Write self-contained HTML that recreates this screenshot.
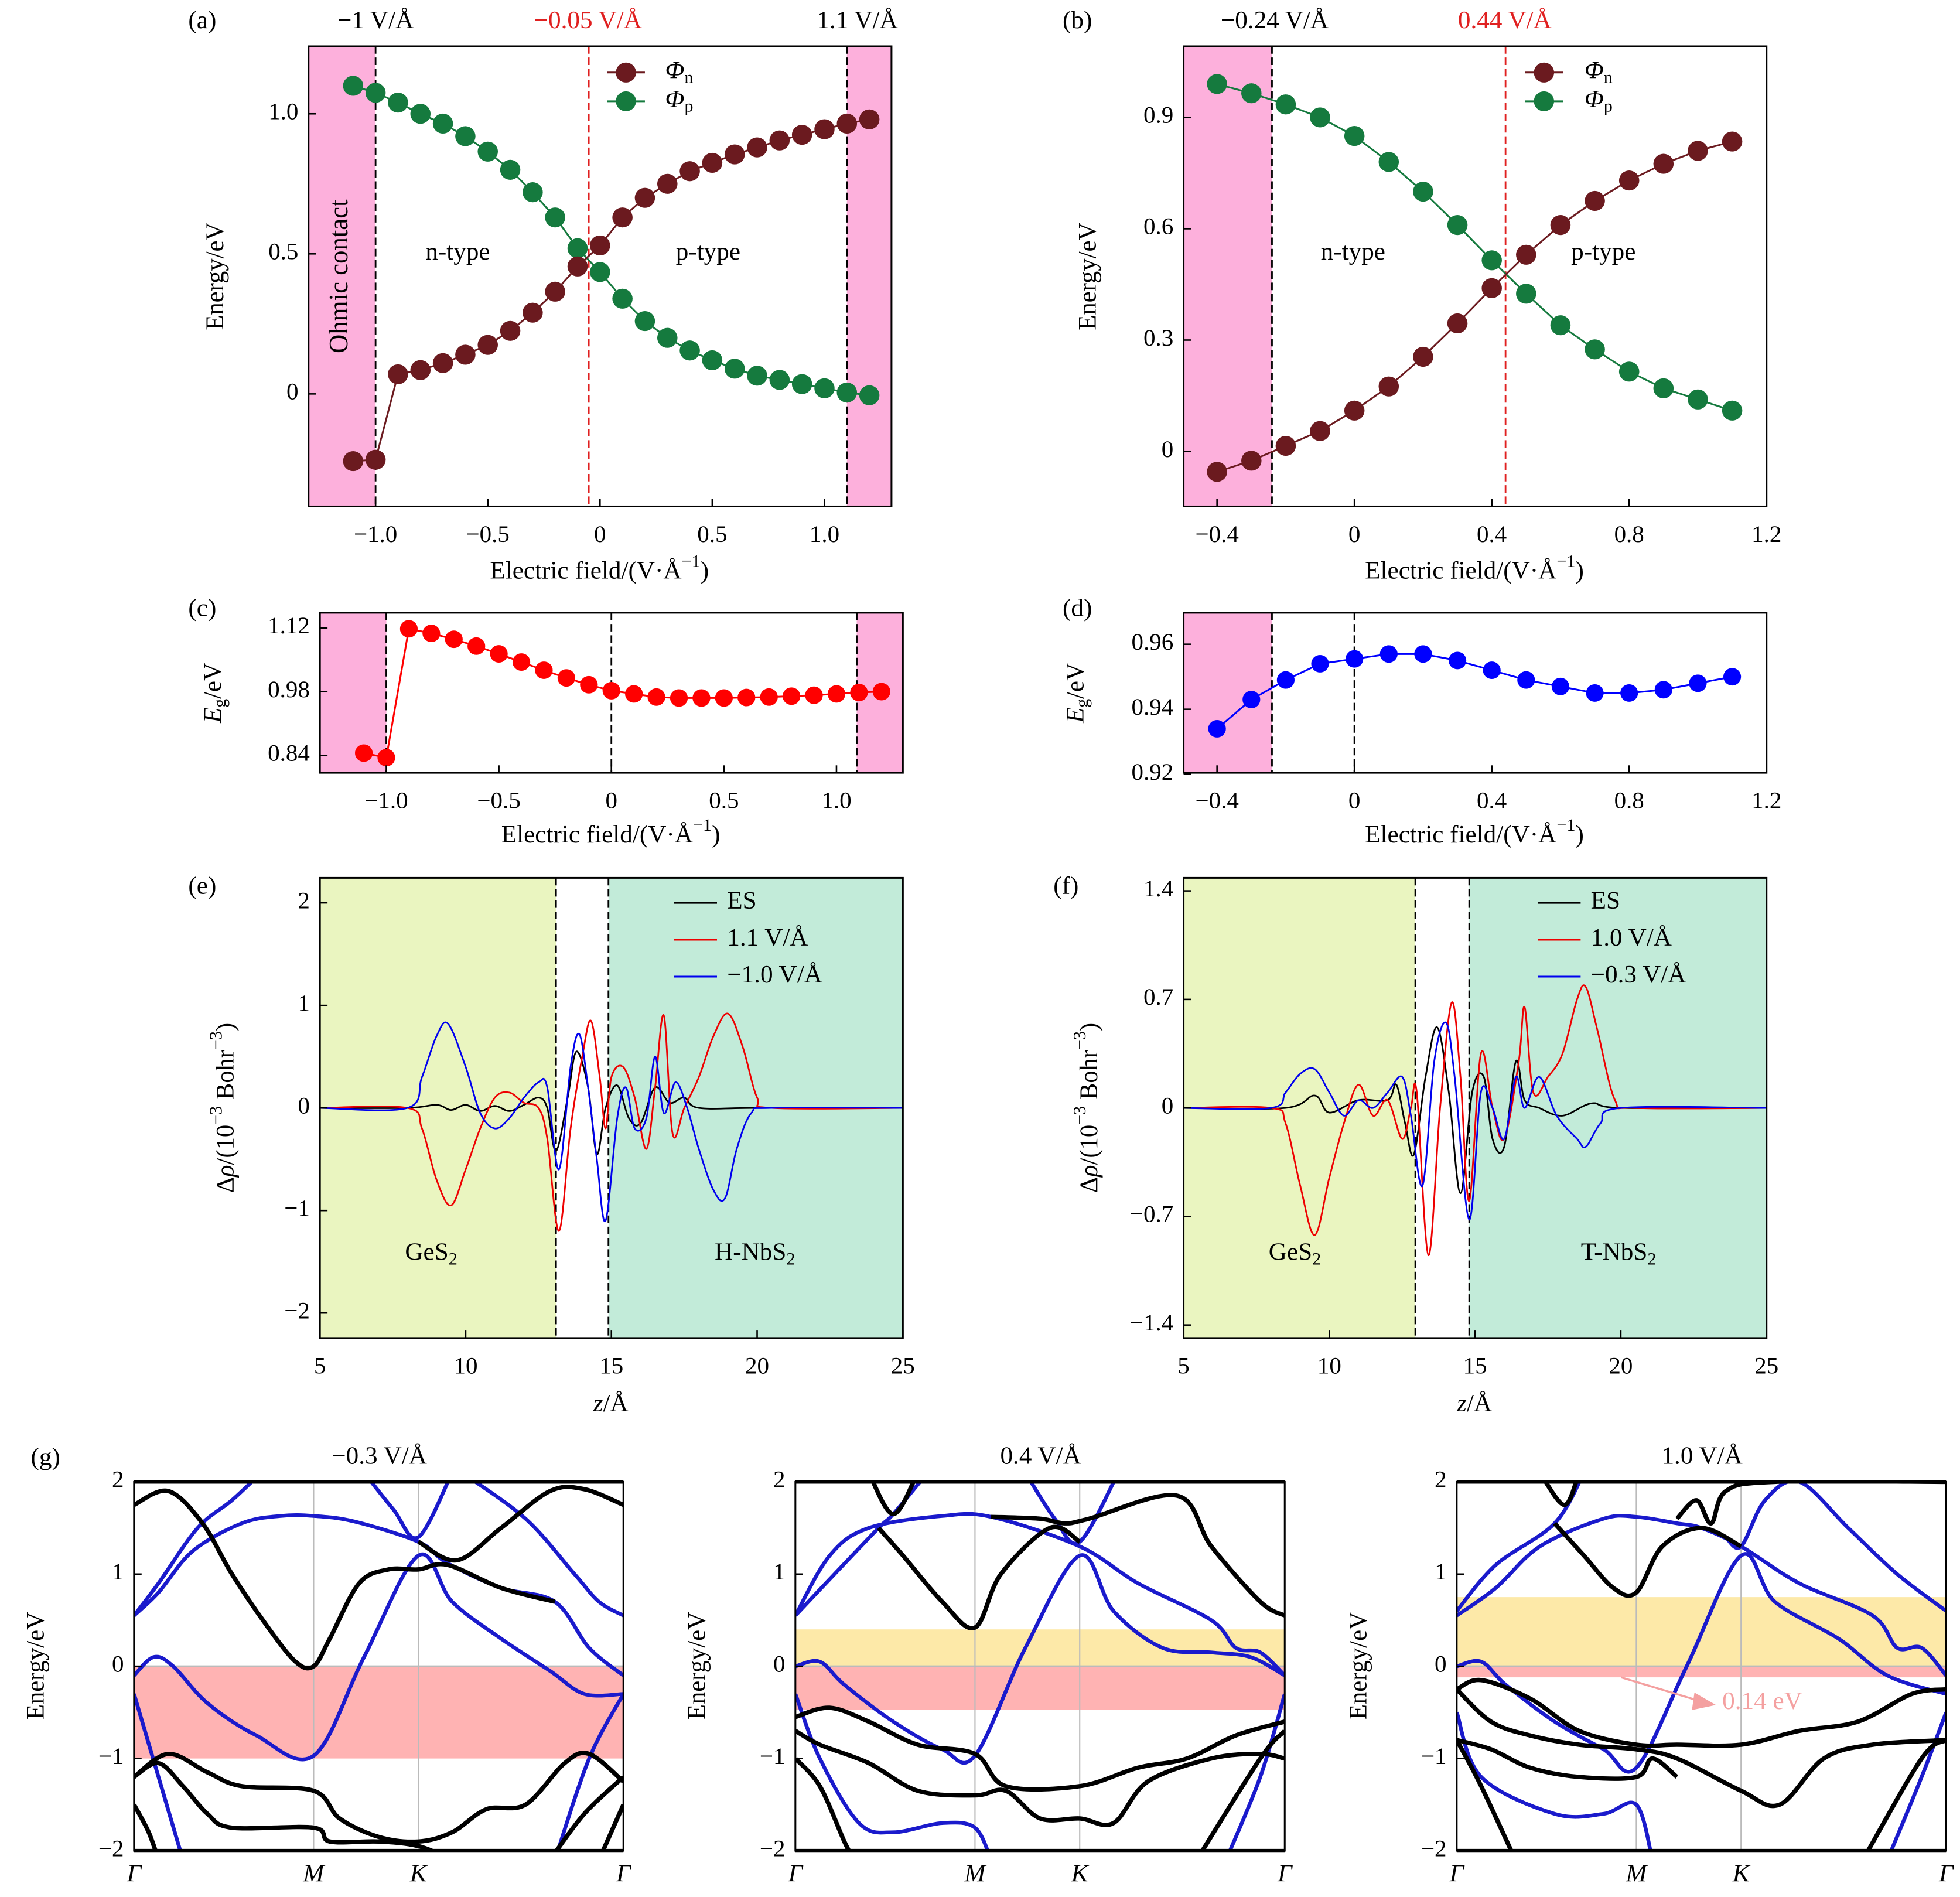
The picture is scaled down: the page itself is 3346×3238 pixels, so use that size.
<!DOCTYPE html>
<html><head><meta charset="utf-8">
<style>
html,body{margin:0;padding:0;background:#fff;}
svg{display:block;font-family:"Liberation Serif",serif;}
</style></head>
<body>
<svg id="fig" width="3346" height="3238" viewBox="0 0 1550 1517" preserveAspectRatio="none" xmlns="http://www.w3.org/2000/svg">
<defs>
<clipPath id="clipE"><rect x="253" y="702" width="461" height="368"/></clipPath>
<clipPath id="clipF"><rect x="936" y="702" width="461" height="368"/></clipPath>
<clipPath id="clipG1"><rect x="106" y="1185" width="387" height="295"/></clipPath>
<clipPath id="clipG2"><rect x="629" y="1185" width="387" height="295"/></clipPath>
<clipPath id="clipG3"><rect x="1152" y="1185" width="387" height="295"/></clipPath>
</defs>
</svg>
<script>
// ---------- DATA ----------
const fieldA = [-1.1,-1.0,-0.9,-0.8,-0.7,-0.6,-0.5,-0.4,-0.3,-0.2,-0.1,0,0.1,0.2,0.3,0.4,0.5,0.6,0.7,0.8,0.9,1.0,1.1,1.2];
const phiNA = [-0.24,-0.235,0.07,0.085,0.11,0.14,0.175,0.225,0.29,0.365,0.455,0.53,0.63,0.7,0.75,0.795,0.825,0.855,0.88,0.905,0.925,0.945,0.965,0.98];
const phiPA = [1.1,1.075,1.04,1.0,0.965,0.92,0.865,0.8,0.72,0.63,0.52,0.435,0.34,0.26,0.2,0.155,0.12,0.09,0.065,0.05,0.035,0.02,0.005,-0.005];
const fieldB = [-0.4,-0.3,-0.2,-0.1,0,0.1,0.2,0.3,0.4,0.5,0.6,0.7,0.8,0.9,1.0,1.1];
const phiNB = [-0.055,-0.025,0.015,0.055,0.11,0.175,0.255,0.345,0.44,0.53,0.61,0.675,0.73,0.775,0.81,0.835];
const phiPB = [0.99,0.965,0.935,0.9,0.85,0.78,0.7,0.61,0.515,0.425,0.34,0.275,0.215,0.17,0.14,0.11];
const egC = [0.845,0.835,1.118,1.108,1.095,1.08,1.063,1.045,1.027,1.01,0.995,0.982,0.975,0.968,0.966,0.966,0.966,0.967,0.968,0.97,0.972,0.975,0.978,0.98];
const egD = [0.934,0.943,0.949,0.954,0.9555,0.957,0.957,0.955,0.952,0.949,0.947,0.945,0.945,0.946,0.948,0.950];
const esE = [[5,0],[8,0],[9,0.03],[9.5,-0.02],[10,0.03],[10.5,-0.03],[11,0.02],[11.5,-0.03],[12,0.03],[12.5,0.1],[12.8,0],[13.1,-0.42],[13.5,0.1],[13.8,0.55],[14.2,0.2],[14.5,-0.45],[14.8,0],[15.2,0.22],[15.6,-0.1],[16,-0.15],[16.5,0.2],[17,0.05],[17.5,0.1],[18,0],[20,0],[25,0]];
const redE = [[5,0],[8,0],[8.5,-0.2],[9,-0.7],[9.5,-0.95],[10,-0.6],[10.5,-0.2],[11,0.1],[11.5,0.15],[12,0.05],[12.5,0],[12.8,-0.3],[13.2,-1.2],[13.6,-0.2],[14,0.5],[14.3,0.85],[14.6,0.3],[14.8,-0.2],[15,0.3],[15.4,0.4],[15.8,0.1],[16.2,-0.4],[16.5,0.2],[16.8,0.9],[17.1,-0.25],[17.5,0],[18,0.3],[18.5,0.7],[19,0.92],[19.5,0.6],[20,0.1],[20.5,0],[25,0]];
const blueE = [[5,0],[8,0],[8.5,0.3],[9,0.7],[9.4,0.82],[10,0.4],[10.5,-0.05],[11,-0.2],[11.5,-0.1],[12,0.1],[12.5,0.25],[12.8,0.2],[13.2,-0.6],[13.6,0.4],[13.9,0.72],[14.2,0.2],[14.5,-0.5],[14.8,-1.1],[15.2,-0.1],[15.5,0.2],[15.8,-0.2],[16.2,-0.1],[16.5,0.5],[16.8,-0.05],[17.2,0.25],[17.6,0],[18,-0.4],[18.5,-0.8],[18.9,-0.88],[19.3,-0.4],[19.8,-0.05],[20.5,0],[25,0]];
const esF = [[5,0],[8.5,0],[9.5,0.08],[10,-0.03],[11,0.05],[12,0.05],[12.3,0.15],[12.6,-0.1],[12.9,-0.3],[13.3,0.2],[13.7,0.52],[14.1,0.1],[14.5,-0.55],[14.9,0.1],[15.3,0.2],[15.6,-0.2],[16,-0.25],[16.4,0.3],[16.7,0.05],[17.2,0],[18,-0.05],[19,0.03],[20,0],[25,0]];
const redF = [[5,0],[8,0],[8.5,-0.1],[9,-0.5],[9.5,-0.82],[10,-0.45],[10.5,-0.1],[11,0.15],[11.5,-0.05],[12,0.05],[12.5,-0.2],[12.8,0],[13,0.1],[13.4,-0.95],[13.8,0],[14.2,0.68],[14.5,0.2],[14.8,-0.6],[15.2,0.35],[15.6,0],[16,-0.2],[16.5,0.3],[16.7,0.65],[17,0.1],[17.5,0.2],[18,0.35],[18.5,0.7],[18.8,0.78],[19.2,0.5],[19.8,0.05],[20.5,0],[25,0]];
const blueF = [[5,0],[8,0],[8.5,0.1],[9,0.22],[9.5,0.25],[10,0.1],[10.5,-0.05],[11,0.05],[11.5,0],[12,0.1],[12.5,0.2],[12.8,-0.05],[13.2,-0.5],[13.6,0.3],[14,0.55],[14.3,0.2],[14.8,-0.72],[15.2,0.1],[15.6,0],[16,-0.2],[16.4,0.2],[16.7,0],[17.2,0.2],[17.8,-0.05],[18.5,-0.2],[18.8,-0.25],[19.3,-0.1],[20,0],[25,0]];
// band structures: [k fraction (Γ=0, M=0.367, K=0.581, Γ=1), energy eV]
const bandsG1Black = [
 [[0,1.75],[0.07,1.9],[0.14,1.55],[0.2,1.0],[0.27,0.45],[0.33,0.05],[0.367,0],[0.4,0.3],[0.46,0.9],[0.52,1.05],[0.581,1.05],[0.64,1.1],[0.75,0.85],[0.86,0.7]],
 [[0.581,1.35],[0.66,1.15],[0.75,1.5],[0.85,1.9],[0.92,1.92],[1,1.75]],
 [[0,-1.2],[0.07,-0.95],[0.15,-1.15],[0.22,-1.3],[0.367,-1.35],[0.42,-1.65],[0.5,-1.85],[0.581,-1.9],[0.65,-1.8],[0.72,-1.55],[0.8,-1.5],[0.88,-1.05],[0.93,-0.95],[1,-1.25]],
 [[0,-1.2],[0.05,-1.05],[0.1,-1.3],[0.15,-1.6],[0.2,-1.75],[0.367,-1.75],[0.4,-1.9],[0.5,-1.9],[0.581,-1.95],[0.65,-2.1]],
 [[0,-1.5],[0.03,-1.8],[0.05,-2.1]],
 [[0.85,-2.1],[0.92,-1.6],[1,-1.2]],
 [[0.95,-2.1],[1,-1.5]]
];
const bandsG1Blue = [
 [[0,0.55],[0.05,0.9],[0.13,1.5],[0.2,1.8],[0.26,2.1]],
 [[0,0.55],[0.05,0.8],[0.12,1.25],[0.22,1.55],[0.3,1.63],[0.367,1.63],[0.45,1.57],[0.581,1.35],[0.64,1.12],[0.75,0.85],[0.86,0.7],[0.93,0.2],[1,-0.1]],
 [[0.47,2.1],[0.53,1.7],[0.581,1.4],[0.65,2.1]],
 [[0.67,2.1],[0.8,1.6],[0.9,1.0],[0.95,0.7],[1,0.55]],
 [[0,-0.1],[0.04,0.1],[0.08,0],[0.15,-0.4],[0.25,-0.75],[0.367,-0.97],[0.47,0.1],[0.581,1.2],[0.65,0.7],[0.75,0.3],[0.85,-0.05],[0.92,-0.3],[1,-0.3]],
 [[0,-0.3],[0.05,-1.2],[0.1,-2.1]],
 [[0.86,-2.1],[0.93,-1.0],[1,-0.3]]
];
const bandsG2Black = [
 [[0.15,2.1],[0.2,1.65],[0.25,2.1]],
 [[0.17,1.5],[0.22,1.2],[0.3,0.7],[0.367,0.42],[0.42,1.0],[0.52,1.5],[0.581,1.35]],
 [[0.4,1.62],[0.5,1.6],[0.55,1.55],[0.6,1.6],[0.78,1.85],[0.85,1.3],[0.95,0.7],[1,0.55]],
 [[0,-0.55],[0.07,-0.45],[0.15,-0.6],[0.25,-0.85],[0.367,-0.95],[0.43,-1.3],[0.581,-1.3],[0.7,-1.1],[0.8,-1.0],[0.9,-0.75],[1,-0.6]],
 [[0,-0.7],[0.05,-0.85],[0.15,-1.05],[0.25,-1.35],[0.367,-1.4],[0.43,-1.35],[0.5,-1.65],[0.581,-1.65],[0.65,-1.7],[0.72,-1.25],[0.85,-1.0],[0.95,-0.95],[1,-1.0]],
 [[0,-1.0],[0.05,-1.3],[0.1,-1.9],[0.12,-2.1]],
 [[0.82,-2.1],[0.95,-1.0],[1,-0.7]]
];
const bandsG2Blue = [
 [[0,0.55],[0.07,1.2],[0.15,1.5],[0.3,1.63],[0.4,1.62],[0.581,1.3],[0.7,0.9],[0.85,0.5],[0.9,0.2],[0.95,0.15],[1,-0.1]],
 [[0,0.55],[0.08,1.0],[0.17,1.5],[0.2,1.65],[0.27,2.1]],
 [[0.47,2.1],[0.53,1.6],[0.581,1.35],[0.66,2.1]],
 [[0,0],[0.05,0.05],[0.1,-0.2],[0.2,-0.6],[0.3,-0.9],[0.367,-0.97],[0.47,0.2],[0.581,1.2],[0.65,0.6],[0.75,0.2],[0.85,0.15],[0.93,0.1],[1,-0.1]],
 [[0,-0.3],[0.05,-1.0],[0.13,-1.7],[0.2,-1.8],[0.3,-1.7],[0.367,-1.75],[0.4,-2.1]],
 [[0.88,-2.1],[0.95,-1.2],[1,-0.3]]
];
const bandsG3Black = [
 [[0.17,2.1],[0.22,1.75],[0.25,2.1]],
 [[0.2,1.55],[0.26,1.2],[0.32,0.85],[0.367,0.8],[0.42,1.3],[0.5,1.5],[0.581,1.3]],
 [[0.45,1.6],[0.49,1.8],[0.52,1.55],[0.55,1.9],[0.65,2.0],[1,2.0]],
 [[0,-0.25],[0.05,-0.15],[0.15,-0.35],[0.25,-0.7],[0.367,-0.85],[0.45,-0.85],[0.581,-0.85],[0.7,-0.7],[0.82,-0.6],[0.93,-0.3],[1,-0.25]],
 [[0,-0.25],[0.07,-0.6],[0.15,-0.75],[0.25,-0.85],[0.367,-0.9],[0.45,-1.0],[0.581,-1.35],[0.66,-1.5],[0.75,-1.0],[0.85,-0.85],[1,-0.8]],
 [[0,-0.8],[0.07,-0.9],[0.15,-1.1],[0.25,-1.2],[0.367,-1.2],[0.4,-1.0],[0.45,-1.2]],
 [[0,-0.8],[0.05,-1.3],[0.12,-2.1]],
 [[0.83,-2.1],[0.95,-1.0],[1,-0.8]]
];
const bandsG3Blue = [
 [[0,0.55],[0.08,0.85],[0.17,1.3],[0.3,1.6],[0.367,1.62],[0.45,1.55],[0.5,1.5],[0.581,1.3],[0.7,0.9],[0.85,0.55],[0.9,0.2],[0.95,0.2],[1,-0.1]],
 [[0,0.6],[0.08,1.1],[0.2,1.55],[0.26,2.1]],
 [[0.55,1.4],[0.581,1.3],[0.63,1.8],[0.7,2.0],[0.8,1.5],[0.9,1.0],[1,0.6]],
 [[0,0],[0.05,0.05],[0.1,-0.2],[0.2,-0.6],[0.3,-0.9],[0.367,-1.1],[0.47,0],[0.581,1.2],[0.65,0.7],[0.78,0.3],[0.88,-0.1],[1,-0.3]],
 [[0,-0.5],[0.05,-1.2],[0.2,-1.6],[0.3,-1.6],[0.367,-1.5],[0.4,-2.1]],
 [[0.88,-2.1],[0.95,-1.2],[1,-0.5]]
];
const tickA_x = [-1.0,-0.5,0,0.5,1.0], tickA_y = [0,0.5,1.0];
const tickB_x = [-0.4,0,0.4,0.8,1.2], tickB_y = [0,0.3,0.6,0.9];
const tickC_y = [0.84,0.98,1.12], tickD_y = [0.92,0.94,0.96];
const tickE_x = [5,10,15,20,25], tickE_y = [-2,-1,0,1,2], tickF_y = [-1.4,-0.7,0,0.7,1.4];
const tickG_y = [-2,-1,0,1,2];

// ---------- HELPERS ----------
const svg = document.getElementById('fig');
const NS = 'http://www.w3.org/2000/svg';
function mk(tag, attrs, name, parent) {
  const e = document.createElementNS(NS, tag);
  for (const k in attrs) e.setAttribute(k, attrs[k]);
  
  
  (parent || svg).appendChild(e);
  return e;
}
function txt(x, y, s, name, opt) {
  opt = opt || {};
  const t = mk('text', {x: x, y: y, 'font-size': opt.size || 20, 'text-anchor': opt.anchor || 'middle', fill: opt.fill || '#000', 'dominant-baseline': 'middle'}, name);
  if (opt.rot) t.setAttribute('transform', 'rotate(-90 ' + x + ' ' + y + ')');
  if (opt.italic) t.setAttribute('font-style', 'italic');
  t.innerHTML = s;
  return t;
}
function axis(x0, x1, y0, y1, xd0, xd1, yd0, yd1) {
  return {
    X: v => x0 + (v - xd0) / (xd1 - xd0) * (x1 - x0),
    Y: v => y1 - (v - yd0) / (yd1 - yd0) * (y1 - y0),
    x0: x0, x1: x1, y0: y0, y1: y1
  };
}
function smooth(pts) {
  if (pts.length < 2) return '';
  let d = 'M' + pts[0][0].toFixed(2) + ',' + pts[0][1].toFixed(2);
  for (let i = 0; i < pts.length - 1; i++) {
    const p0 = pts[Math.max(0, i - 1)], p1 = pts[i], p2 = pts[i + 1], p3 = pts[Math.min(pts.length - 1, i + 2)];
    const c1 = [p1[0] + (p2[0] - p0[0]) / 6, p1[1] + (p2[1] - p0[1]) / 6];
    const c2 = [p2[0] - (p3[0] - p1[0]) / 6, p2[1] - (p3[1] - p1[1]) / 6];
    d += 'C' + c1[0].toFixed(2) + ',' + c1[1].toFixed(2) + ' ' + c2[0].toFixed(2) + ',' + c2[1].toFixed(2) + ' ' + p2[0].toFixed(2) + ',' + p2[1].toFixed(2);
  }
  return d;
}
function frame(a, name) {
  mk('rect', {x: a.x0, y: a.y0, width: a.x1 - a.x0, height: a.y1 - a.y0, fill: 'none', stroke: '#000', 'stroke-width': 1.4}, name);
}
function xticks(a, vals, labels, name) {
  vals.forEach((v, i) => {
    const x = a.X(v);
    mk('line', {x1: x, x2: x, y1: a.y1, y2: a.y1 - 6, stroke: '#000', 'stroke-width': 1.2}, name + '-tick');
    txt(x, a.y1 + 24, labels[i], name + '-label', {size: 19});
  });
}
function yticks(a, vals, labels, name) {
  vals.forEach((v, i) => {
    const y = a.Y(v);
    mk('line', {x1: a.x0, x2: a.x0 + 6, y1: y, y2: y, stroke: '#000', 'stroke-width': 1.2}, name + '-tick');
    txt(a.x0 - 8, y, labels[i], name + '-label', {size: 19, anchor: 'end'});
  });
}
function vdash(a, v, color, name) {
  const x = a.X(v);
  mk('line', {x1: x, x2: x, y1: a.y0, y2: a.y1, stroke: color, 'stroke-width': 1.3, 'stroke-dasharray': '6,3'}, name);
}
function band(a, v0, v1, color, name) {
  const xa = Math.max(a.x0, a.X(Math.min(v0, v1))), xb = Math.min(a.x1, a.X(Math.max(v0, v1)));
  mk('rect', {x: xa, y: a.y0, width: xb - xa, height: a.y1 - a.y0, fill: color}, name);
}
function series(a, xs, ys, color, r, name) {
  const pts = xs.map((x, i) => [a.X(x), a.Y(ys[i])]);
  mk('polyline', {points: pts.map(p => p.join(',')).join(' '), fill: 'none', stroke: color, 'stroke-width': 1.4}, name + '-line');
  pts.forEach(p => mk('circle', {cx: p[0], cy: p[1], r: r, fill: color}, name + '-point'));
}
function curve(a, data, color, w, name, clip) {
  const p = mk('path', {d: smooth(data.map(d => [a.X(d[0]), a.Y(d[1])])), fill: 'none', stroke: color, 'stroke-width': w, 'stroke-linejoin': 'round'}, name);
  if (clip) p.setAttribute('clip-path', 'url(#' + clip + ')');
}
const fmt = v => (v < 0 ? '−' : '') + Math.abs(v);
const fmt1 = v => v === 0 ? '0' : (v < 0 ? '−' : '') + Math.abs(v).toFixed(1);
const fmt2 = v => (v < 0 ? '−' : '') + Math.abs(v).toFixed(2);

const C_N = '#6b1a1f', C_P = '#157a3e', PINK = '#fdb0dc';

// ---------- PANEL A ----------
const A = axis(244, 705, 37, 405, -1.2986, 1.2986, -0.4018, 1.2411);
band(A, -1.4, -1.0, PINK, 'ohmic-region-left');
band(A, 1.1, 1.4, PINK, 'ohmic-region-right');
vdash(A, -1.0, '#000', 'boundary-line-neg1');
vdash(A, 1.1, '#000', 'boundary-line-1p1');
vdash(A, -0.05, '#e02020', 'crossover-line');
series(A, fieldA, phiPA, C_P, 8, 'phi-p-a');
series(A, fieldA, phiNA, C_N, 8, 'phi-n-a');
frame(A, 'panel-a-frame');
xticks(A, tickA_x, tickA_x.map(fmt1), 'a-xtick');
yticks(A, tickA_y, tickA_y.map(fmt1), 'a-ytick');
txt(172, 221, 'Energy/eV', 'a-y-title', {rot: true});
txt(474, 458, 'Electric field/(V·Å<tspan baseline-shift="super" font-size="14">−1</tspan>)', 'a-x-title');
txt(160, 18, '(a)', 'panel-a-label');
txt(297, 18, '−1 V/Å', 'a-annot-neg1');
txt(465, 18, '−0.05 V/Å', 'a-annot-crossover', {fill: '#e02020'});
txt(678, 18, '1.1 V/Å', 'a-annot-1p1');
txt(270, 221, 'Ohmic contact', 'ohmic-contact-label', {rot: true, size: 21});
txt(362, 203, 'n-type', 'a-n-type-label');
txt(560, 203, 'p-type', 'a-p-type-label');
mk('line', {x1: 480, x2: 510, y1: 58, y2: 58, stroke: C_N, 'stroke-width': 1.4}, 'legend-a-n-line');
mk('circle', {cx: 495, cy: 58, r: 8, fill: C_N}, 'legend-a-n-marker');
txt(526, 58, '<tspan font-style="italic">Φ</tspan><tspan font-size="14" dy="5">n</tspan>', 'legend-a-n-text', {anchor: 'start'});
mk('line', {x1: 480, x2: 510, y1: 81, y2: 81, stroke: C_P, 'stroke-width': 1.4}, 'legend-a-p-line');
mk('circle', {cx: 495, cy: 81, r: 8, fill: C_P}, 'legend-a-p-marker');
txt(526, 81, '<tspan font-style="italic">Φ</tspan><tspan font-size="14" dy="5">p</tspan>', 'legend-a-p-text', {anchor: 'start'});

// ---------- PANEL B ----------
const B = axis(936, 1397, 37, 405, -0.4974, 1.2, -0.1483, 1.0917);
band(B, -0.6, -0.24, PINK, 'ohmic-region-b');
vdash(B, -0.24, '#000', 'boundary-line-b');
vdash(B, 0.44, '#e02020', 'crossover-line-b');
series(B, fieldB, phiPB, C_P, 8, 'phi-p-b');
series(B, fieldB, phiNB, C_N, 8, 'phi-n-b');
frame(B, 'panel-b-frame');
xticks(B, tickB_x, tickB_x.map(fmt1), 'b-xtick');
yticks(B, tickB_y, tickB_y.map(fmt1), 'b-ytick');
txt(862, 221, 'Energy/eV', 'b-y-title', {rot: true});
txt(1166, 458, 'Electric field/(V·Å<tspan baseline-shift="super" font-size="14">−1</tspan>)', 'b-x-title');
txt(852, 18, '(b)', 'panel-b-label');
txt(1008, 18, '−0.24 V/Å', 'b-annot-boundary');
txt(1190, 18, '0.44 V/Å', 'b-annot-crossover', {fill: '#e02020'});
txt(1070, 203, 'n-type', 'b-n-type-label');
txt(1268, 203, 'p-type', 'b-p-type-label');
mk('line', {x1: 1206, x2: 1236, y1: 58, y2: 58, stroke: C_N, 'stroke-width': 1.4}, 'legend-b-n-line');
mk('circle', {cx: 1221, cy: 58, r: 8, fill: C_N}, 'legend-b-n-marker');
txt(1253, 58, '<tspan font-style="italic">Φ</tspan><tspan font-size="14" dy="5">n</tspan>', 'legend-b-n-text', {anchor: 'start'});
mk('line', {x1: 1206, x2: 1236, y1: 81, y2: 81, stroke: C_P, 'stroke-width': 1.4}, 'legend-b-p-line');
mk('circle', {cx: 1221, cy: 81, r: 8, fill: C_P}, 'legend-b-p-marker');
txt(1253, 81, '<tspan font-style="italic">Φ</tspan><tspan font-size="14" dy="5">p</tspan>', 'legend-b-p-text', {anchor: 'start'});

// ---------- PANEL C ----------
const Cc = axis(253, 714, 490, 618, -1.295, 1.295, 0.8016, 1.1533);
band(Cc, -1.5, -1.0, PINK, 'ohmic-region-c-left');
band(Cc, 1.09, 1.5, PINK, 'ohmic-region-c-right');
vdash(Cc, -1.0, '#000', 'c-boundary-left');
vdash(Cc, 0, '#000', 'c-zero-line');
vdash(Cc, 1.09, '#000', 'c-boundary-right');
series(Cc, fieldA, egC, '#ff0000', 7, 'eg-c');
frame(Cc, 'panel-c-frame');
xticks(Cc, tickA_x, tickA_x.map(fmt1), 'c-xtick');
yticks(Cc, tickC_y, tickC_y.map(fmt2), 'c-ytick');
txt(170, 554, '<tspan font-style="italic">E</tspan><tspan font-size="14" dy="5">g</tspan><tspan dy="-5">/eV</tspan>', 'c-y-title', {rot: true});
txt(483, 669, 'Electric field/(V·Å<tspan baseline-shift="super" font-size="14">−1</tspan>)', 'c-x-title');
txt(160, 488, '(c)', 'panel-c-label');

// ---------- PANEL D ----------
const D = axis(936, 1397, 490, 618, -0.4974, 1.2, 0.92046, 0.96969);
band(D, -0.6, -0.24, PINK, 'ohmic-region-d');
vdash(D, -0.24, '#000', 'd-boundary');
vdash(D, 0, '#000', 'd-zero-line');
series(D, fieldB, egD, '#0000ff', 7, 'eg-d');
frame(D, 'panel-d-frame');
xticks(D, tickB_x, tickB_x.map(fmt1), 'd-xtick');
yticks(D, tickD_y, tickD_y.map(fmt2), 'd-ytick');
txt(852, 554, '<tspan font-style="italic">E</tspan><tspan font-size="14" dy="5">g</tspan><tspan dy="-5">/eV</tspan>', 'd-y-title', {rot: true});
txt(1166, 669, 'Electric field/(V·Å<tspan baseline-shift="super" font-size="14">−1</tspan>)', 'd-x-title');
txt(852, 488, '(d)', 'panel-d-label');

// ---------- PANEL E & F ----------
function densityPanel(x0, yd, split1, split2, es, red, blue, ticksY, lblR, lblB, lblMat, letter, clip) {
  const P = axis(x0, x0 + 461, 702, 1070, 5, 25, -yd, yd);
  band(P, 5, split1, '#eaf5c0', letter + '-ges2-region');
  band(P, split2, 25, '#c2ebd9', letter + '-nbs2-region');
  vdash(P, split1, '#000', letter + '-interface-left');
  vdash(P, split2, '#000', letter + '-interface-right');
  curve(P, es, '#000', 1.3, letter + '-es-curve', clip);
  curve(P, red, '#ee0000', 1.3, letter + '-positive-field-curve', clip);
  curve(P, blue, '#0000ee', 1.3, letter + '-negative-field-curve', clip);
  frame(P, letter + '-frame');
  xticks(P, tickE_x, tickE_x.map(fmt), letter + '-xtick');
  yticks(P, ticksY, ticksY.map(v => Math.abs(v) < 1e-9 ? '0' : (Number.isInteger(v) ? fmt(v) : fmt1(v))), letter + '-ytick');
  txt(x0 - 73, 886, 'Δ<tspan font-style="italic">ρ</tspan>/(10<tspan baseline-shift="super" font-size="14">−3</tspan> Bohr<tspan baseline-shift="super" font-size="14">−3</tspan>)', letter + '-y-title', {rot: true});
  txt(x0 + 230, 1124, '<tspan font-style="italic">z</tspan>/Å', letter + '-x-title');
  txt(x0 - 93, 710, '(' + letter + ')', 'panel-' + letter + '-label');
  txt(x0 + 88, 1003, 'GeS<tspan font-size="14" dy="5">2</tspan>', letter + '-ges2-label');
  txt(x0 + 344, 1003, lblMat, letter + '-nbs2-label');
  const lx = x0 + 280;
  [['#000', 'ES'], ['#ee0000', lblR], ['#0000ee', lblB]].forEach((L, i) => {
    mk('line', {x1: lx, x2: lx + 34, y1: 722 + i * 29.5, y2: 722 + i * 29.5, stroke: L[0], 'stroke-width': 1.4}, letter + '-legend-line');
    txt(lx + 42, 722 + i * 29.5, L[1], letter + '-legend-text', {anchor: 'start'});
  });
}
densityPanel(253, 2.2439, 13.1, 14.9, esE, redE, blueE, tickE_y, '1.1 V/Å', '−1.0 V/Å', 'H-NbS<tspan font-size="14" dy="5">2</tspan>', 'e', 'clipE');
densityPanel(936, 1.4839, 12.95, 14.8, esF, redF, blueF, tickF_y, '1.0 V/Å', '−0.3 V/Å', 'T-NbS<tspan font-size="14" dy="5">2</tspan>', 'f', 'clipF');

// ---------- PANEL G ----------
const kTicks = [0, 0.367, 0.581, 1], kLabels = ['Γ', 'M', 'K', 'Γ'];
function bandPanel(x0, title, pinkLow, yellowHigh, blk, blu, idx, clip) {
  const G = axis(x0, x0 + 387, 1185, 1480, 0, 1, -2, 2);
  if (yellowHigh > 0) mk('rect', {x: G.x0, y: G.Y(yellowHigh), width: 387, height: G.Y(0) - G.Y(yellowHigh), fill: '#fde9a8'}, 'g' + idx + '-yellow-gap');
  mk('rect', {x: G.x0, y: G.Y(0), width: 387, height: G.Y(pinkLow) - G.Y(0), fill: '#ffb3b3'}, 'g' + idx + '-pink-gap');
  mk('line', {x1: G.x0, x2: G.x1, y1: G.Y(0), y2: G.Y(0), stroke: '#bbb', 'stroke-width': 1.5}, 'g' + idx + '-fermi-line');
  [0.367, 0.581].forEach(k => mk('line', {x1: G.X(k), x2: G.X(k), y1: G.y0, y2: G.y1, stroke: '#bbb', 'stroke-width': 1}, 'g' + idx + '-kpoint-line'));
  blu.forEach(b => curve(G, b, '#1a1acc', 3, 'g' + idx + '-blue-band', clip));
  blk.forEach(b => curve(G, b, '#000', 3.5, 'g' + idx + '-black-band', clip));
  frame(G, 'g' + idx + '-frame');
  mk('line', {x1: G.x0, x2: G.x1, y1: G.y0, y2: G.y0, stroke: '#000', 'stroke-width': 3}, 'g' + idx + '-top-edge');
  mk('line', {x1: G.x0, x2: G.x1, y1: G.y1, y2: G.y1, stroke: '#000', 'stroke-width': 3}, 'g' + idx + '-bottom-edge');
  yticks(G, tickG_y, tickG_y.map(fmt), 'g' + idx + '-ytick');
  kTicks.forEach((k, i) => txt(G.X(k), 1500, kLabels[i], 'g' + idx + '-k-label', {italic: true, size: 20}));
  txt(x0 + 194, 1166, title, 'g' + idx + '-title');
  txt(x0 - 76, 1332, 'Energy/eV', 'g' + idx + '-y-title', {rot: true});
  return G;
}
bandPanel(106, '−0.3 V/Å', -1.0, 0, bandsG1Black, bandsG1Blue, 1, 'clipG1');
bandPanel(629, '0.4 V/Å', -0.47, 0.4, bandsG2Black, bandsG2Blue, 2, 'clipG2');
const G3 = bandPanel(1152, '1.0 V/Å', -0.12, 0.75, bandsG3Black, bandsG3Blue, 3, 'clipG3');
txt(36, 1167, '(g)', 'panel-g-label');
mk('line', {x1: 1282, y1: G3.Y(-0.12), x2: 1345, y2: G3.Y(-0.38), stroke: '#f4a0a0', 'stroke-width': 1.6}, 'gap-arrow-shaft');
mk('polygon', {points: '1357,' + G3.Y(-0.42) + ' 1340,' + (G3.Y(-0.42) - 10) + ' 1338,' + (G3.Y(-0.42) + 4)}, 'gap-arrow-head').setAttribute('fill', '#f4a0a0');
txt(1362, G3.Y(-0.4), '0.14 eV', 'gap-annotation', {anchor: 'start', fill: '#f4a0a0'});
</script>
</body></html>
